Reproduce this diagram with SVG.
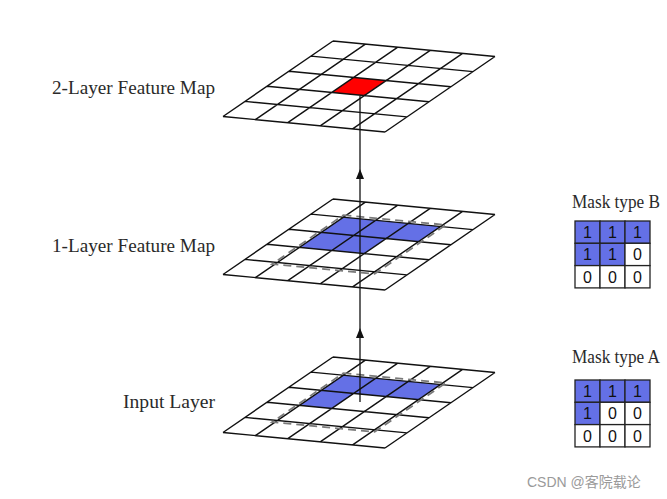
<svg xmlns="http://www.w3.org/2000/svg" xmlns:xlink="http://www.w3.org/1999/xlink" width="667" height="499" viewBox="0 0 667 499">
<style>
.grid{fill:none;stroke:#111;stroke-width:1.4;vector-effect:non-scaling-stroke}
.dash{fill:none;stroke:#7a7a7a;stroke-width:1.8;stroke-dasharray:8 5}
.lbl{font-family:"Liberation Serif",serif;font-size:18px;fill:#2a2a2a}
.num{font-family:"Liberation Sans",Arial,sans-serif;font-size:16px;fill:#111;text-anchor:middle}
.blue{fill:#6470e6}
.mcell{stroke:#222;stroke-width:1.3}
.conn{stroke:#111;stroke-width:1.3;fill:none}
</style>
<defs>
<path id="gridlines" class="grid" d="M0 0H5M0 1H5M0 2H5M0 3H5M0 4H5M0 5H5M0 0V5M1 0V5M2 0V5M3 0V5M4 0V5M5 0V5"/>
</defs>
<rect width="667" height="499" fill="#fff"/>

<g id="layer2">
<g transform="matrix(32.4 3.1 -22 15.1 333 41)">
<polygon points="2,2 3,2 3,3 2,3" fill="#ff0000"/>
<use xlink:href="#gridlines"/>
</g>
<text class="lbl" x="215" y="94" text-anchor="end" textLength="163" lengthAdjust="spacingAndGlyphs">2-Layer Feature Map</text>
</g>

<g id="layer1">
<g transform="matrix(32.4 3.1 -22 15.1 333 199)">
<polygon class="blue" points="1,1 4,1 4,2 3,2 3,3 1,3"/>
<use xlink:href="#gridlines"/>
</g>
<polygon class="dash" points="343.4,215.1 445.8,224.9 374.6,273.9 272.2,264.1"/>
<text class="lbl" x="215" y="252" text-anchor="end" textLength="163" lengthAdjust="spacingAndGlyphs">1-Layer Feature Map</text>
</g>

<g id="input">
<g transform="matrix(32.4 3.1 -22 15.1 333 357)">
<polygon class="blue" points="1,1 4,1 4,2 2,2 2,3 1,3"/>
<use xlink:href="#gridlines"/>
</g>
<polygon class="dash" points="343.4,373.1 445.8,382.9 374.6,431.9 272.2,422.1"/>
<text class="lbl" x="215" y="408" text-anchor="end" textLength="92" lengthAdjust="spacingAndGlyphs">Input Layer</text>
</g>

<g id="connectors">
<line class="conn" x1="360" y1="402" x2="360" y2="96"/>
<path d="M356 338 L360 328 L364 338 Z" fill="#111"/>
<path d="M356 179 L360 169 L364 179 Z" fill="#111"/>
</g>

<g id="maskB">
<text class="lbl" x="572" y="208" textLength="88" lengthAdjust="spacingAndGlyphs">Mask type B</text>
<rect class="mcell blue" x="575" y="221" width="25" height="22.3"/>
<rect class="mcell blue" x="600" y="221" width="25" height="22.3"/>
<rect class="mcell blue" x="625" y="221" width="25" height="22.3"/>
<rect class="mcell blue" x="575" y="243.3" width="25" height="22.3"/>
<rect class="mcell blue" x="600" y="243.3" width="25" height="22.3"/>
<rect class="mcell" fill="#fff" x="625" y="243.3" width="25" height="22.3"/>
<rect class="mcell" fill="#fff" x="575" y="265.6" width="25" height="22.3"/>
<rect class="mcell" fill="#fff" x="600" y="265.6" width="25" height="22.3"/>
<rect class="mcell" fill="#fff" x="625" y="265.6" width="25" height="22.3"/>
<text class="num" x="587.5" y="238">1</text>
<text class="num" x="612.5" y="238">1</text>
<text class="num" x="637.5" y="238">1</text>
<text class="num" x="587.5" y="260.3">1</text>
<text class="num" x="612.5" y="260.3">1</text>
<text class="num" x="637.5" y="260.3">0</text>
<text class="num" x="587.5" y="282.6">0</text>
<text class="num" x="612.5" y="282.6">0</text>
<text class="num" x="637.5" y="282.6">0</text>
</g>

<g id="maskA">
<text class="lbl" x="572" y="363" textLength="88" lengthAdjust="spacingAndGlyphs">Mask type A</text>
<rect class="mcell blue" x="575" y="380" width="25" height="22.3"/>
<rect class="mcell blue" x="600" y="380" width="25" height="22.3"/>
<rect class="mcell blue" x="625" y="380" width="25" height="22.3"/>
<rect class="mcell blue" x="575" y="402.3" width="25" height="22.3"/>
<rect class="mcell" fill="#fff" x="600" y="402.3" width="25" height="22.3"/>
<rect class="mcell" fill="#fff" x="625" y="402.3" width="25" height="22.3"/>
<rect class="mcell" fill="#fff" x="575" y="424.6" width="25" height="22.3"/>
<rect class="mcell" fill="#fff" x="600" y="424.6" width="25" height="22.3"/>
<rect class="mcell" fill="#fff" x="625" y="424.6" width="25" height="22.3"/>
<text class="num" x="587.5" y="397">1</text>
<text class="num" x="612.5" y="397">1</text>
<text class="num" x="637.5" y="397">1</text>
<text class="num" x="587.5" y="419.3">1</text>
<text class="num" x="612.5" y="419.3">0</text>
<text class="num" x="637.5" y="419.3">0</text>
<text class="num" x="587.5" y="441.6">0</text>
<text class="num" x="612.5" y="441.6">0</text>
<text class="num" x="637.5" y="441.6">0</text>
</g>

<text x="527" y="487" font-family="'Liberation Sans','Noto Sans CJK SC',sans-serif" font-size="14" fill="#9a9a9a">CSDN @客院载论</text>
</svg>
